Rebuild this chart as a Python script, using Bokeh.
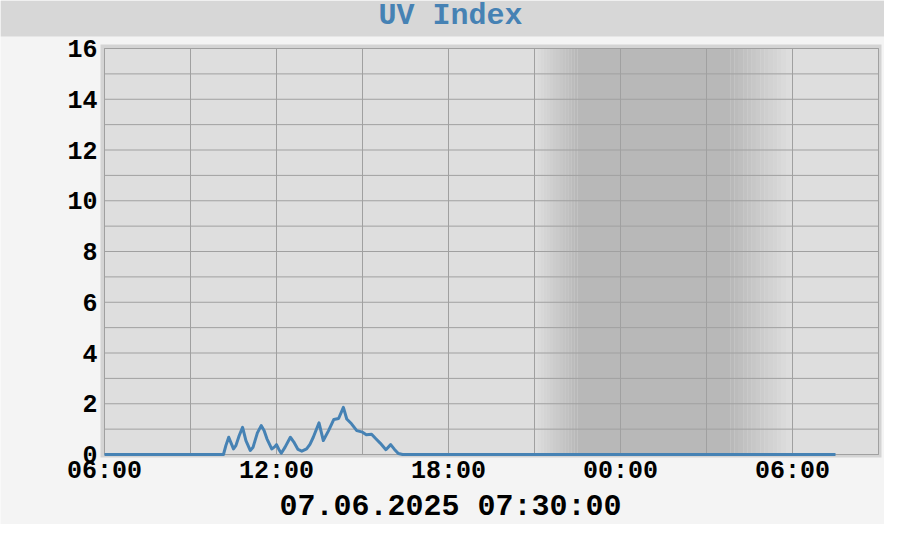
import pandas as pd
from bokeh.plotting import figure
from bokeh.models import Range1d
from bokeh.core.properties import value
from bokeh.embed import file_html
from bokeh.resources import INLINE

# ---------------- data ----------------
title_text = "UV Index"
timestamp_text = "07.06.2025 07:30:00"

times = [
    "2025-06-06 06:00", "2025-06-06 10:09", "2025-06-06 10:14", "2025-06-06 10:20",
    "2025-06-06 10:25", "2025-06-06 10:30", "2025-06-06 10:35", "2025-06-06 10:42",
    "2025-06-06 10:49", "2025-06-06 10:56", "2025-06-06 11:05", "2025-06-06 11:11",
    "2025-06-06 11:20", "2025-06-06 11:28", "2025-06-06 11:34", "2025-06-06 11:40",
    "2025-06-06 11:50", "2025-06-06 11:56", "2025-06-06 12:00", "2025-06-06 12:05",
    "2025-06-06 12:10", "2025-06-06 12:18", "2025-06-06 12:29", "2025-06-06 12:36",
    "2025-06-06 12:45", "2025-06-06 12:53", "2025-06-06 13:03", "2025-06-06 13:10",
    "2025-06-06 13:17", "2025-06-06 13:29", "2025-06-06 13:38", "2025-06-06 13:49",
    "2025-06-06 14:00", "2025-06-06 14:10", "2025-06-06 14:20", "2025-06-06 14:27",
    "2025-06-06 14:37", "2025-06-06 14:48", "2025-06-06 15:00", "2025-06-06 15:08",
    "2025-06-06 15:19", "2025-06-06 15:28", "2025-06-06 15:37", "2025-06-06 15:49",
    "2025-06-06 15:59", "2025-06-06 16:07", "2025-06-06 16:15", "2025-06-06 16:24",
    "2025-06-07 07:30",
]
uv = [
    0.0, 0.0, 0.35, 0.68,
    0.45, 0.22, 0.35, 0.75,
    1.07, 0.55, 0.16, 0.29,
    0.85, 1.14, 0.95, 0.62,
    0.22, 0.30, 0.39, 0.20,
    0.05, 0.29, 0.68, 0.50,
    0.20, 0.13, 0.22, 0.40,
    0.68, 1.25, 0.55, 0.94,
    1.38, 1.42, 1.86, 1.40,
    1.21, 0.94, 0.88, 0.78,
    0.80, 0.62, 0.45, 0.19,
    0.39, 0.20, 0.04, 0.0,
    0.0,
]

x_start = "2025-06-06 06:00"
x_end = "2025-06-07 09:00"
x_tick_values = ["2025-06-06 06:00", "2025-06-06 12:00", "2025-06-06 18:00",
                 "2025-06-07 00:00", "2025-06-07 06:00"]
x_tick_labels = ["06:00", "12:00", "18:00", "00:00", "06:00"]
x_grid_ticks = ["2025-06-06 06:00", "2025-06-06 09:00", "2025-06-06 12:00",
                "2025-06-06 15:00", "2025-06-06 18:00", "2025-06-06 21:00",
                "2025-06-07 00:00", "2025-06-07 03:00", "2025-06-07 06:00",
                "2025-06-07 09:00"]
y_start = 0
y_end = 16
y_tick_values = [0, 2, 4, 6, 8, 10, 12, 14, 16]
y_tick_labels = ["0", "2", "4", "6", "8", "10", "12", "14", "16"]
y_grid_ticks = list(range(0, 17))

night_start = "2025-06-06 21:00"
dark_start = "2025-06-06 22:30"
dark_end = "2025-06-07 03:50"
night_end = "2025-06-07 05:55"

# ---------------- layout (canvas pixels) ----------------
W, H = 884, 524
BOX_L, BOX_T, BOX_R, BOX_B = 104, 48, 878, 454      # inner plot box
BAND = 4                                             # light band around the box
TITLE_BAR_H = 36
TITLE_MID = 15           # vertical middle of title text
XLAB_MID = 471           # middle of x tick labels
YLAB_RIGHT = 97          # right edge of y tick labels
FOOT_MID = 506           # vertical middle of timestamp

PAGE = "#f4f4f4"
BAR = "#d7d7d7"
BANDC = "#d4d4d4"
PLOT_BG = "#dedede"
NIGHT = "#b8b8b8"
GRID = "#a0a0a0"
LINE = "#4682b4"
FONT = "Liberation Mono"


def ms(s):
    return pd.Timestamp(s).value / 1e6


def mix(c1, c2, t):
    a = [int(c1[i:i + 2], 16) for i in (1, 3, 5)]
    b = [int(c2[i:i + 2], 16) for i in (1, 3, 5)]
    return "#%02x%02x%02x" % tuple(round(a[k] + (b[k] - a[k]) * t) for k in range(3))


# scales: whole canvas is the plotting frame; the box maps the data window
x_ppm = (BOX_R - BOX_L) / (ms(x_end) - ms(x_start))
y_ppu = (BOX_B - BOX_T) / (y_end - y_start)
xr0 = ms(x_start) - BOX_L / x_ppm
xr1 = xr0 + W / x_ppm
yr1 = y_end + BOX_T / y_ppu
yr0 = yr1 - H / y_ppu


def X(px):
    return xr0 + px / x_ppm


def Y(py):
    return yr1 - py / y_ppu


p = figure(width=W, height=H, title=None, x_range=Range1d(xr0, xr1), y_range=Range1d(yr0, yr1),
           x_axis_location=None, y_axis_location=None, output_backend="svg",
           toolbar_location=None, min_border=0, outline_line_color=None,
           background_fill_color=PAGE, border_fill_color=PAGE)
p.xgrid.visible = False
p.ygrid.visible = False

# title bar
p.quad(left=[X(0)], right=[X(W)], bottom=[Y(TITLE_BAR_H)], top=[Y(0)], fill_color=BAR, line_color=None)

# light band and plot box
t0, t1 = ms(x_start), ms(x_end)
p.quad(left=[X(BOX_L - BAND)], right=[X(BOX_R + 3)], bottom=[Y(BOX_B + 3)], top=[Y(BOX_T - BAND)],
       fill_color=BANDC, line_color=None)
p.quad(left=[t0], right=[t1], bottom=[y_start], top=[y_end], fill_color=PLOT_BG, line_color=None)

# night shading with soft twilight gradients
steps = 14
ns, ds, de, ne = ms(night_start), ms(dark_start), ms(dark_end), ms(night_end)
lefts, rights, colors = [], [], []
for i in range(steps):
    lefts.append(ns + (ds - ns) * i / steps)
    rights.append(ns + (ds - ns) * (i + 1) / steps)
    colors.append(mix(PLOT_BG, NIGHT, (i + 0.5) / steps))
lefts.append(ds); rights.append(de); colors.append(NIGHT)
for i in range(steps):
    lefts.append(de + (ne - de) * i / steps)
    rights.append(de + (ne - de) * (i + 1) / steps)
    colors.append(mix(NIGHT, PLOT_BG, (i + 0.5) / steps))
p.quad(left=lefts, right=rights, bottom=[y_start] * len(lefts), top=[y_end] * len(lefts),
       fill_color=colors, line_color=None)

# grid lines
gx = [ms(t) for t in x_grid_ticks]
p.segment(x0=gx, x1=gx, y0=[y_start] * len(gx), y1=[y_end] * len(gx), line_color=GRID, line_width=1)
p.segment(x0=[t0] * len(y_grid_ticks), x1=[t1] * len(y_grid_ticks),
          y0=y_grid_ticks, y1=y_grid_ticks, line_color=GRID, line_width=1)
p.quad(left=[t0], right=[t1], bottom=[y_start], top=[y_end], fill_color=None, line_color=GRID, line_width=1)

# data
p.line(x=[ms(t) for t in times], y=uv, line_color=LINE, line_width=3, line_join="round")

# tick labels
p.text(x=[ms(t) for t in x_tick_values], y=[Y(XLAB_MID)] * len(x_tick_values), text=x_tick_labels,
       text_font=value(FONT), text_font_style="bold", text_font_size=value("25px"),
       text_color="black", text_align="center", text_baseline="middle")
p.text(x=[X(YLAB_RIGHT)] * len(y_tick_values), y=y_tick_values, text=y_tick_labels,
       text_font=value(FONT), text_font_style="bold", text_font_size=value("25px"),
       text_color="black", text_align="right", text_baseline="middle")

# title and timestamp
p.text(x=[X(450)], y=[Y(TITLE_MID)], text=[title_text], text_font=value(FONT), text_font_style="bold",
       text_font_size=value("30px"), text_color=LINE, text_align="center", text_baseline="middle")
p.text(x=[X(450)], y=[Y(FOOT_MID)], text=[timestamp_text], text_font=value(FONT), text_font_style="bold",
       text_font_size=value("30px"), text_color="black", text_align="center", text_baseline="middle")

open("out.html", "w").write(file_html(p, INLINE))
